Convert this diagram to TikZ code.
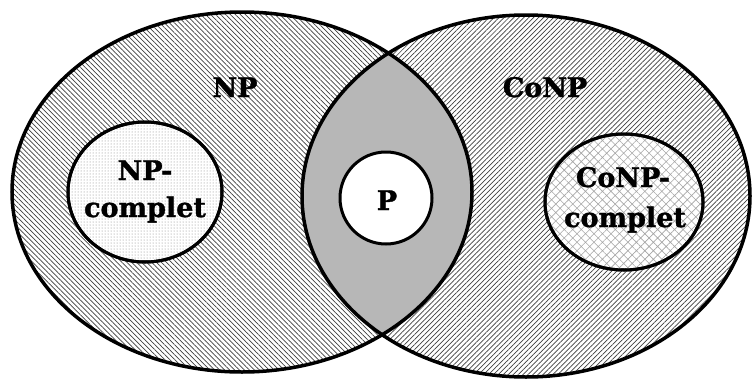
\documentclass[tikz,border=0pt]{standalone}
\usepackage{fontspec}
\setmainfont{DejaVu Serif}
\newfontfamily\lblfont[FakeBold=1.2]{DejaVu Serif Bold}
\usetikzlibrary{patterns,patterns.meta}

\tikzset{
  rim/.style={draw=black,line width=3.5pt},
  subrim/.style={draw=black,line width=3pt},
  lbl/.style={anchor=base,inner sep=0pt,font=\lblfont\fontsize{27}{30}\selectfont},
  hatchleft/.style={pattern={Lines[angle=-45,distance=3.5pt,line width=0.7pt]},pattern color=black!75},
  hatchright/.style={pattern={Lines[angle=45,distance=3.5pt,line width=0.7pt]},pattern color=black!75}
}

\begin{document}
\begin{tikzpicture}[x=1pt,y=-1pt]
\useasboundingbox (0,0) rectangle (752,378);
\fill[white] (0,0) rectangle (752,378);

% the two classes
\fill[hatchleft] (242,192) ellipse [x radius=230pt,y radius=180pt];
\fill[hatchright] (526,196) ellipse [x radius=224pt,y radius=181pt];
\begin{scope}
\clip (242,192) ellipse [x radius=230pt,y radius=180pt];
\fill[gray!50] (526,196) ellipse [x radius=224pt,y radius=181pt];
\fill[pattern={Dots[distance=2pt,radius=0.45pt]},pattern color=black!60] (526,196) ellipse [x radius=224pt,y radius=181pt];
\end{scope}
\draw[rim] (242,192) ellipse [x radius=230pt,y radius=180pt];
\draw[rim] (526,196) ellipse [x radius=224pt,y radius=181pt];

% the three subclasses
\filldraw[subrim,fill=white] (145,192) ellipse [x radius=77pt,y radius=70pt];
\fill[pattern={Dots[distance=3pt,radius=0.5pt]},pattern color=gray] (145,192) ellipse [x radius=77pt,y radius=70pt];
\draw[subrim] (145,192) ellipse [x radius=77pt,y radius=70pt];
\filldraw[subrim,fill=white] (386,198) circle (46pt);
\filldraw[subrim,fill=white] (624,202) ellipse [x radius=79pt,y radius=68pt];
\fill[pattern={Hatch[angle=45,distance=6pt,line width=0.6pt]},pattern color=gray!70] (624,202) ellipse [x radius=79pt,y radius=68pt];
\draw[subrim] (624,202) ellipse [x radius=79pt,y radius=68pt];

\node[lbl] (np) at (235,97) {NP};
\node[lbl] (conp) at (545,97) {CoNP};
\node[lbl] (npc1) at (145,180) {NP-};
\node[lbl] (npc2) at (145,217) {complet};
\node[lbl] (p) at (387,210) {P};
\node[lbl] (conpc1) at (623,187) {CoNP-};
\node[lbl] (conpc2) at (625,227) {complet};
\end{tikzpicture}
\end{document}
